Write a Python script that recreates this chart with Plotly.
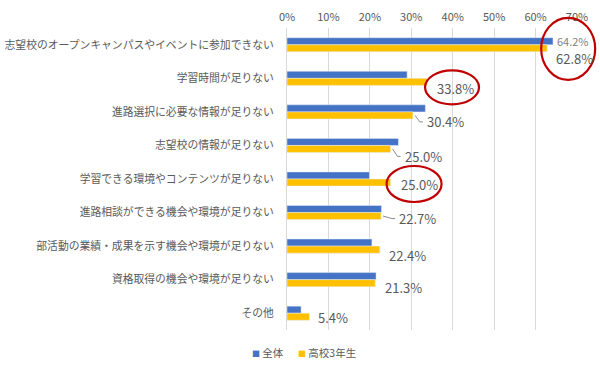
import plotly.graph_objects as go

categories = [
    "志望校のオープンキャンパスやイベントに参加できない",
    "学習時間が足りない",
    "進路選択に必要な情報が足りない",
    "志望校の情報が足りない",
    "学習できる環境やコンテンツが足りない",
    "進路相談ができる機会や環境が足りない",
    "部活動の業績・成果を示す機会や環境が足りない",
    "資格取得の機会や環境が足りない",
    "その他",
]
all_students = [64.2, 29.0, 33.4, 26.9, 19.9, 22.8, 20.5, 21.5, 3.4]
grade3 = [62.8, 33.8, 30.4, 25.0, 25.0, 22.7, 22.4, 21.3, 5.4]
series_names = ["全体", "高校3年生"]
tick_values = [0, 10, 20, 30, 40, 50, 60, 70]
tick_labels = [f"{v}%" for v in tick_values]
circled = [0, 1, 4]

FONT = "Noto Sans CJK JP, Noto Sans, sans-serif"
GRAY = "#595959"
BLUE = "#4472C4"
YELLOW = "#FFC000"
RED = "#C00000"
XMAX = 70
N = len(categories)

# label style offsets (pixels): xshift from bar end, yshift (plotly: up positive)
label_dx = [7, 8, 12, 12, 8, 16, 7, 8, 7]
label_dy = [-14, -10, -10, -11, -5, -6, -9, -8, -4]
leader = [False, False, True, True, False, True, False, False, False]

idx = list(range(N))

fig = go.Figure()
fig.add_bar(y=idx, x=all_students, orientation="h", name=series_names[0],
            marker_color=BLUE)
fig.add_bar(y=idx, x=grade3, orientation="h", name=series_names[1],
            marker_color=YELLOW)

annotations = []
shapes = []
for i, v in enumerate(grade3):
    annotations.append(dict(
        x=v, y=i, xref="x", yref="y", text=f"{v:.1f}%", showarrow=False,
        xanchor="left", yanchor="middle", xshift=label_dx[i], yshift=label_dy[i],
        font=dict(family=FONT, size=13, color=GRAY)))
    if leader[i]:
        shapes.append(dict(
            type="path", xref="x", yref="y", xsizemode="pixel", ysizemode="pixel",
            xanchor=v, yanchor=i,
            path=f"M2,-3.5 L{label_dx[i]-5},{label_dy[i]} L{label_dx[i]-2},{label_dy[i]}",
            line=dict(color="#8c8c8c", width=1)))
# 全体 label on first category
annotations.append(dict(
    x=grade3[0], y=0, xref="x", yref="y", text=f"{all_students[0]:.1f}%",
    showarrow=False, xanchor="left", yanchor="middle", xshift=8, yshift=4,
    font=dict(family=FONT, size=11, color="#7f7f7f")))

ellipse_px = {0: (-6, 48, -35, 27), 1: (-2, 52, -26, 8), 4: (-4, 51, -23, 13)}
for i in circled:
    x0, x1, y0, y1 = ellipse_px[i]
    shapes.append(dict(
        type="circle", xref="paper", yref="paper", xsizemode="pixel", ysizemode="pixel",
        xanchor=grade3[i] / XMAX, yanchor=1 - (i + 0.5) / N,
        x0=x0, x1=x1, y0=y0, y1=y1,
        line=dict(color=RED, width=2.2)))

# legend drawn as text
legend_x = [-0.128, 0.032]
for name, color, lx in zip(series_names, [BLUE, YELLOW], legend_x):
    annotations.append(dict(
        x=lx, y=-0.073, xref="paper", yref="paper", xanchor="left", yanchor="middle",
        showarrow=False,
        text=f"<span style='color:{color};font-size:8px'>■</span> {name}",
        font=dict(family=FONT, size=10.5, color=GRAY)))

fig.update_layout(
    width=600, height=372,
    margin=dict(l=287, r=23, t=28, b=42),
    paper_bgcolor="white", plot_bgcolor="white",
    barmode="group", bargap=0.58, bargroupgap=0,
    font=dict(family=FONT, color=GRAY),
    showlegend=False,
    annotations=annotations, shapes=shapes,
)
fig.update_xaxes(range=[0, XMAX], side="top", tickvals=tick_values,
                 ticktext=tick_labels, showgrid=True, gridcolor="#d9d9d9",
                 gridwidth=1, zeroline=False, showline=False, automargin=False,
                 ticklabelstandoff=4,
                 tickfont=dict(family=FONT, size=11, color=GRAY), ticks="")
fig.update_yaxes(tickvals=idx, ticktext=categories, range=[N - 0.5, -0.5],
                 showgrid=False, zeroline=False, showline=True, automargin=False,
                 linecolor="#d9d9d9", ticks="", ticklabelstandoff=10,
                 tickfont=dict(family=FONT, size=10.8, color=GRAY))

fig.write_html("out.html", config={"displayModeBar": False},
               post_script="document.body.style.margin='0px';document.body.style.overflow='hidden';")
